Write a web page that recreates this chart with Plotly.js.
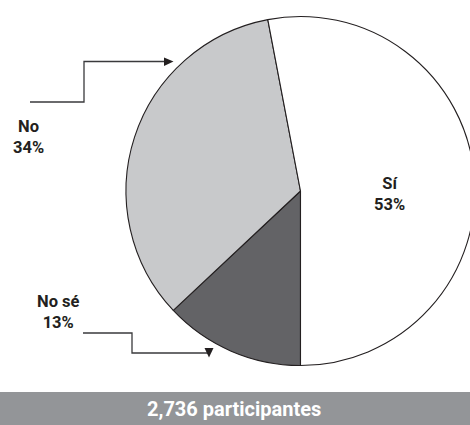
<!DOCTYPE html>
<html>
<head>
<meta charset="utf-8">
<script src="https://cdn.plot.ly/plotly-3.0.1.min.js"></script>
<style>
html,body{margin:0;padding:0;overflow:hidden;background:#fff;}
#chart{width:480px;height:425px;}
</style>
</head>
<body>
<div id="chart"></div>
<script>
// Data (drawn clockwise from 6 o'clock)
const labels = ['No sé', 'No', 'Sí'];
const values = [13, 34, 53];
const totalLabel = '2,736 participantes';

// Styles
const colors = ['#636366', '#c8c9cb', '#ffffff'];
const W = 480, H = 425;
const px = x => x / W;
const py = y => 1 - y / H;
const P = (pts) => pts.map((p, i) => (i ? 'L' : 'M') + px(p[0]).toFixed(5) + ',' + py(p[1]).toFixed(5)).join(' ');

const textColor = '#231f20';
const font = {family: 'Roboto, "Open Sans", sans-serif', size: 16.5, color: textColor, weight: 700};

const labelPos = [[58, 312], [28, 137], [389, 194]];

const annotations = labels.map((l, i) => ({
  xref: 'paper', yref: 'paper',
  x: px(labelPos[i][0]), y: py(labelPos[i][1]),
  xanchor: 'center', yanchor: 'middle',
  text: l + '<br>' + values[i] + '%',
  showarrow: false, align: 'center', font: font
}));
annotations.push({
  xref: 'paper', yref: 'paper', x: px(234), y: py(409),
  xanchor: 'center', yanchor: 'middle', showarrow: false,
  text: totalLabel,
  font: {family: 'Roboto, sans-serif', size: 20, color: '#ffffff', weight: 700}
});

const lineStyle = {color: '#3a3a3c', width: 1.3};
const shapes = [
  {type: 'rect', xref: 'paper', yref: 'paper', x0: 0, x1: 1, y0: 0, y1: py(392), fillcolor: '#939598', line: {width: 0}, layer: 'below'},
  {type: 'path', xref: 'paper', yref: 'paper', path: P([[30, 102], [84, 102], [84, 61.5], [166, 61.5]]), line: lineStyle},
  {type: 'path', xref: 'paper', yref: 'paper', path: P([[164, 57.5], [173.5, 61.5], [164, 66]]) + ' Z', fillcolor: '#231f20', line: {width: 0}},
  {type: 'path', xref: 'paper', yref: 'paper', path: P([[83, 333], [132, 333], [132, 353], [209, 353]]), line: lineStyle},
  {type: 'path', xref: 'paper', yref: 'paper', path: P([[204.5, 348], [213.5, 348], [209, 357.5]]) + ' Z', fillcolor: '#231f20', line: {width: 0}}
];

const trace = {
  type: 'pie',
  labels: labels,
  values: values,
  sort: false,
  direction: 'clockwise',
  rotation: 180,
  textinfo: 'none',
  hoverinfo: 'label+percent',
  marker: {colors: colors, line: {color: '#231f20', width: 1.1}},
  domain: {x: [px(126), px(475)], y: [py(365.5), py(16.5)]}
};

const layout = {
  width: W, height: H,
  margin: {l: 0, r: 0, t: 0, b: 0},
  paper_bgcolor: '#ffffff',
  showlegend: false,
  annotations: annotations,
  shapes: shapes
};

Plotly.newPlot('chart', [trace], layout, {displayModeBar: false, staticPlot: true});
</script>
</body>
</html>
